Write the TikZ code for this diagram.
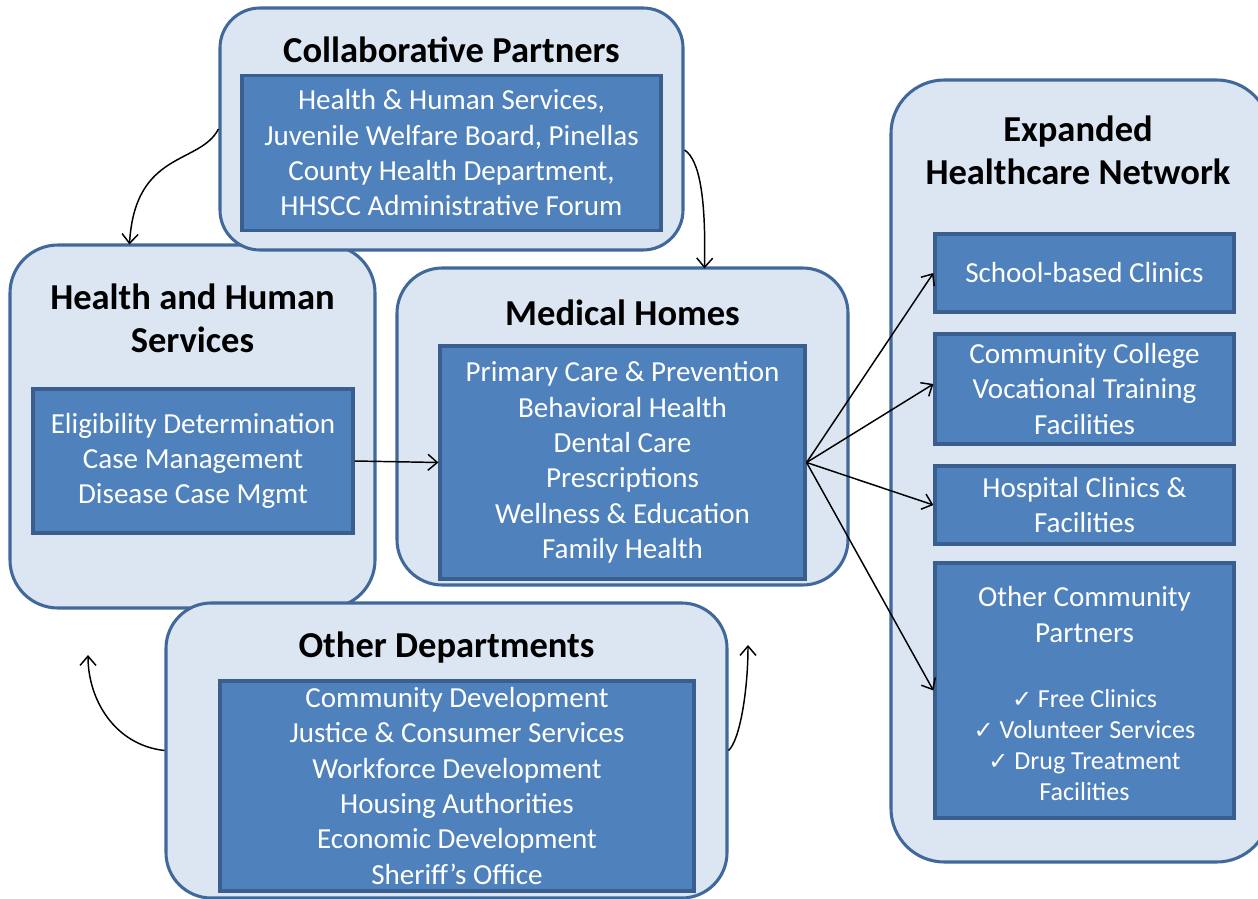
\documentclass[tikz,border=0pt]{standalone}
\usepackage{fontspec}
\setmainfont{Carlito}
\newfontfamily\symfont{DejaVu Sans}
\usetikzlibrary{arrows.meta,calc}
\definecolor{outerfill}{HTML}{DCE6F2}
\definecolor{outerline}{HTML}{41689A}
\definecolor{innerfill}{HTML}{4F81BD}
\definecolor{innerline}{HTML}{3A5F8E}
\begin{document}
\begin{tikzpicture}[x=0.75pt,y=-0.75pt,
  outerbox/.style={draw=outerline, line width=2.3pt, fill=outerfill, rounded corners=36pt, inner sep=0pt},
  innerbox/.style={draw=innerline, line width=2.4pt, fill=innerfill, text=white, align=center, inner sep=0pt, font=\fontsize{21.8}{26.5}\selectfont},
  bodytext/.style={text=white, align=center, inner sep=0pt, font=\fontsize{21.8}{26.5}\selectfont},
  checktext/.style={text=white, align=center, inner sep=0pt, font=\fontsize{19.5}{23.25}\selectfont},
  titletext/.style={font=\fontsize{27.4}{32.3}\selectfont\bfseries, align=center, text=black, inner sep=0pt},
  conn/.style={-{Straight Barb[length=7pt,width=12pt]}, line width=1.1pt, black}]
\useasboundingbox (0,0) rectangle (1258,899);
\clip (0,0) rectangle (1258,899);
\fill[white] (0,0) rectangle (1258,899);

% outer boxes (lower layer)
\node[outerbox, minimum width=273.75pt, minimum height=272.25pt] (hhs) at (192.5,426.5) {};
\node[outerbox, minimum width=338.25pt, minimum height=237.75pt, rounded corners=34pt] (mh) at (622.5,426.5) {};
\node[outerbox, minimum width=284.25pt, minimum height=586.5pt, rounded corners=40pt] (ehn) at (1080.5,471) {};
% upper layer
\node[outerbox, minimum width=347.25pt, minimum height=181.5pt, rounded corners=30pt] (cp) at (451.5,129) {};
\node[outerbox, minimum width=420.75pt, minimum height=221.25pt, rounded corners=34pt] (od) at (446.5,750.5) {};

% titles
\node[titletext] (cpt) at (451.5,50) {Collaborative Partners};
\node[titletext] (hhst) at (192.5,318) {Health and Human\\Services};
\node[titletext] (mht) at (622.5,313) {Medical Homes};
\node[titletext] (odt) at (446.5,648) {Other Departments};
\node[titletext] (ehnt) at (1078,150) {Expanded\\Healthcare Network};

% inner boxes
\node[innerbox, minimum width=314.25pt, minimum height=116.25pt] (cpi) at (451.5,153)
  {Health \& Human Services,\\Juvenile Welfare Board, Pinellas\\County Health Department,\\HHSCC Administrative Forum};
\node[innerbox, minimum width=240pt, minimum height=108pt] (hhsi) at (193,461)
  {Eligibility Determination\\Case Management\\Disease Case Mgmt};
\node[innerbox, minimum width=273.75pt, minimum height=174.75pt] (mhi) at (622.5,462.5)
  {Primary Care \& Prevention\\Behavioral Health\\Dental Care\\Prescriptions\\Wellness \& Education\\Family Health};
\node[innerbox, minimum width=355.5pt, minimum height=157.5pt] (odi) at (457,786)
  {Community Development\\Justice \& Consumer Services\\Workforce Development\\Housing Authorities\\Economic Development\\Sheriff’s Office};
\node[innerbox, minimum width=224.25pt, minimum height=58.5pt] (e1) at (1084.5,273) {School-based Clinics};
\node[innerbox, minimum width=224.25pt, minimum height=82.5pt] (e2) at (1084.5,389)
  {Community College\\Vocational Training\\Facilities};
\node[innerbox, minimum width=224.25pt, minimum height=58.5pt] (e3) at (1084.5,505)
  {Hospital Clinics \&\\Facilities};
\node[innerbox, minimum width=224.25pt, minimum height=191.25pt] (e4) at (1084.5,690.5) {};
\node[bodytext] (e4a) at (1084.5,614.5) {Other Community\\Partners};
\node[checktext] (e4b) at (1084.5,745.5)
  {{\symfont\fontsize{18}{23.25}\selectfont ✓} Free Clinics\\
   {\symfont\fontsize{18}{23.25}\selectfont ✓} Volunteer Services\\
   {\symfont\fontsize{18}{23.25}\selectfont ✓} Drug Treatment\\
   Facilities};

% free ends
\coordinate (odl) at (88,655);
\coordinate (odr) at (748,645);

% connectors
\draw[conn] (cp.west) .. controls (200,165) and (135,150) .. ($(hhs.north west)+(121,1)$);
\draw[conn] ($(cp.east)+(0,21)$) .. controls (700,160) and (706,200) .. ($(mh.north west)+(309,2)$);
\draw[conn] (hhsi.east) -- (mhi.west);
\draw[conn] (mhi.east) -- (e1.west);
\draw[conn] (mhi.east) -- ($(e2.west)+(0,-5)$);
\draw[conn] (mhi.east) -- (e3.west);
\draw[conn] (mhi.east) -- (e4.west);
\draw[conn] (od.west) .. controls (115,745) and (88,700) .. (odl);
\draw[conn] (od.east) .. controls (740,740) and (748,690) .. (odr);
\end{tikzpicture}
\end{document}
